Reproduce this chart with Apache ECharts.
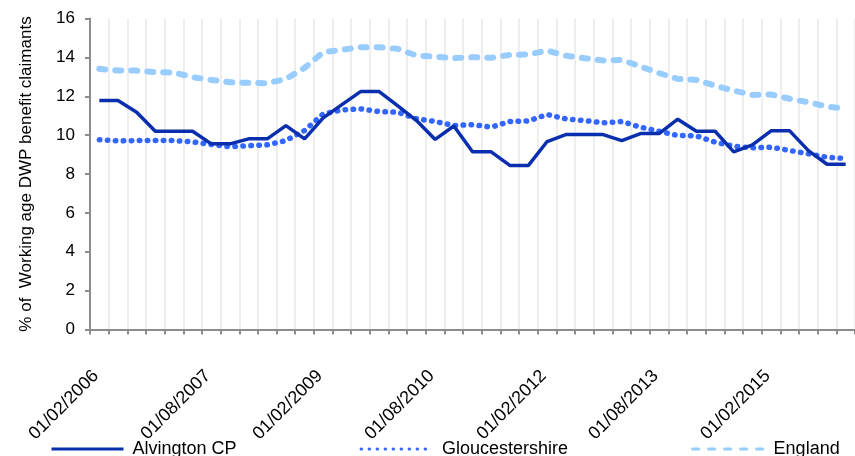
<!DOCTYPE html>
<html>
<head>
<meta charset="utf-8">
<script src="https://cdn.jsdelivr.net/npm/echarts@6/dist/echarts.min.js"></script>
<style>html,body{margin:0;padding:0;background:#fff;}#c{width:855px;height:456px;}</style>
</head>
<body>
<div id="c"></div>
<script>
var categories = [
  "01/02/2006","01/05/2006","01/08/2006","01/11/2006",
  "01/02/2007","01/05/2007","01/08/2007","01/11/2007",
  "01/02/2008","01/05/2008","01/08/2008","01/11/2008",
  "01/02/2009","01/05/2009","01/08/2009","01/11/2009",
  "01/02/2010","01/05/2010","01/08/2010","01/11/2010",
  "01/02/2011","01/05/2011","01/08/2011","01/11/2011",
  "01/02/2012","01/05/2012","01/08/2012","01/11/2012",
  "01/02/2013","01/05/2013","01/08/2013","01/11/2013",
  "01/02/2014","01/05/2014","01/08/2014","01/11/2014",
  "01/02/2015","01/05/2015","01/08/2015","01/11/2015",
  "01/02/2016"
];
var alvington = [11.78, 11.78, 11.18, 10.2, 10.2, 10.2, 9.55, 9.55, 9.81, 9.81,
  10.49, 9.81, 10.89, 11.57, 12.24, 12.24, 11.5, 10.75, 9.78, 10.47,
  9.14, 9.14, 8.44, 8.44, 9.67, 10.03, 10.03, 10.03, 9.72, 10.08,
  10.08, 10.82, 10.2, 10.2, 9.14, 9.5, 10.22, 10.22, 9.2, 8.5, 8.5];
var gloucestershire = [9.76, 9.7, 9.72, 9.72, 9.72, 9.65, 9.52, 9.4, 9.46, 9.5,
  9.72, 10.24, 11.09, 11.3, 11.35, 11.21, 11.18, 10.84, 10.7, 10.49,
  10.54, 10.41, 10.7, 10.73, 11.06, 10.84, 10.75, 10.63, 10.7, 10.41,
  10.2, 9.98, 9.96, 9.64, 9.43, 9.35, 9.38, 9.21, 9.04, 8.86, 8.8];
var england = [13.41, 13.32, 13.32, 13.24, 13.22, 12.98, 12.84, 12.72, 12.69, 12.67,
  12.89, 13.46, 14.27, 14.39, 14.52, 14.52, 14.44, 14.09, 14.04, 13.96,
  14.01, 13.98, 14.13, 14.15, 14.35, 14.09, 13.96, 13.84, 13.87, 13.53,
  13.19, 12.89, 12.84, 12.55, 12.29, 12.07, 12.09, 11.87, 11.69, 11.47, 11.35];
var seriesNames = ["Alvington CP", "Gloucestershire", "England"];
var yAxisTitle = "% of  Working age DWP benefit claimants";

var FONT = "'Liberation Sans', Arial, sans-serif";
var chart = echarts.init(document.getElementById('c'), null, {renderer: 'canvas'});
chart.setOption({
  animation: false,
  backgroundColor: '#ffffff',
  grid: {left: 90, top: 18.5, bottom: 126.5, right: -20.7, containLabel: false},
  legend: {
    left: 50, top: 440, padding: 0, itemWidth: 72, itemHeight: 20, itemGap: 123,
    textStyle: {fontFamily: FONT, fontSize: 18, color: '#000', padding: [0, 0, 0, 4]},
    lineStyle: {width: 3},
    itemStyle: {color: 'rgba(0,0,0,0)', borderColor: 'rgba(0,0,0,0)', borderWidth: 0, opacity: 0},
    data: seriesNames
  },
  xAxis: {
    type: 'category',
    data: categories,
    boundaryGap: true,
    axisLine: {lineStyle: {color: '#8c8c8c', width: 2}},
    axisTick: {show: true, length: 5, interval: 0, lineStyle: {color: '#8c8c8c', width: 2}},
    splitLine: {show: true, interval: 0, lineStyle: {color: '#eeeeee', width: 2}},
    axisLabel: {interval: 5, rotate: 45, margin: 40, padding: [0, 5, 0, 0],
      fontFamily: FONT, fontSize: 18, color: '#000'}
  },
  yAxis: {
    type: 'value', min: 0, max: 16, interval: 2,
    name: yAxisTitle, nameLocation: 'middle', nameRotate: 90, nameGap: 55,
    nameTextStyle: {fontFamily: FONT, fontSize: 17, color: '#000'},
    axisLine: {show: true, lineStyle: {color: '#8c8c8c', width: 2}},
    axisTick: {show: true, length: 5, lineStyle: {color: '#8c8c8c', width: 2}},
    splitLine: {show: false},
    axisLabel: {margin: 15, fontFamily: FONT, fontSize: 17, color: '#000'}
  },
  series: [
    {name: seriesNames[2], type: 'line', data: england, symbol: 'none', z: 2,
     lineStyle: {color: '#99ccff', width: 6, type: [6, 10], cap: 'round'},
     itemStyle: {color: '#99ccff'}},
    {name: seriesNames[1], type: 'line', data: gloucestershire, symbol: 'none', z: 3,
     lineStyle: {color: '#3366ff', width: 5.5, type: [0.5, 7.5], cap: 'round'},
     itemStyle: {color: '#3366ff'}},
    {name: seriesNames[0], type: 'line', data: alvington, symbol: 'none', z: 4,
     lineStyle: {color: '#0a2fae', width: 3.5, type: 'solid'},
     itemStyle: {color: '#0a2fae'}}
  ]
});
</script>
</body>
</html>
